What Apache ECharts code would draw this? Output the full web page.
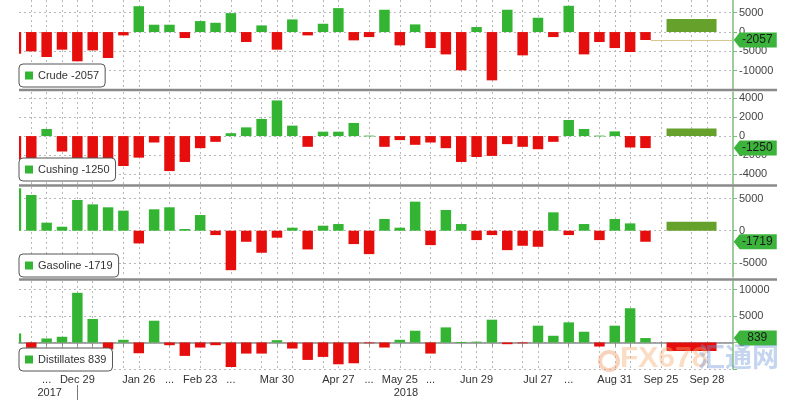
<!DOCTYPE html>
<html><head><meta charset="utf-8">
<script src="https://cdn.jsdelivr.net/npm/echarts@6/dist/echarts.min.js"></script>
<style>html,body{margin:0;padding:0;background:#fff}#c{width:800px;height:400px}</style>
</head><body><div id="c"></div>
<script>
// Weekly changes (thousand barrels), weeks Dec 1 2017 ... Sep 14 2018
const crude = [-5600,-5000,-6450,-4560,-7570,-4740,-6720,-860,6700,1900,1900,-1550,2840,2400,4900,-2580,1720,-4560,3270,-860,2150,6200,-2150,-1300,5780,-3450,1980,-4140,-5780,-9900,1300,-12500,5780,-6030,3700,-1300,6800,-5780,-2580,-4140,-5170,-2057];
const cushing = [-2500,-2500,740,-1610,-2450,-2350,-2420,-3120,-2250,-670,-3650,-2700,-1260,-600,300,910,1790,3720,1090,-1120,460,460,1370,50,-1120,-420,-910,-670,-1260,-2700,-2180,-2070,-840,-1120,-1370,-600,1680,740,50,490,-1190,-1250];
const gasoline = [6600,5560,1250,620,4780,4100,3640,3120,-1980,3330,3640,260,2440,-680,-6140,-1720,-3430,-1090,470,-2910,780,1040,-2080,-3640,1820,470,4520,-2240,3220,1040,-1460,-680,-3020,-2340,-2500,2860,-680,1040,-1460,1820,1140,-1719];
const distillates = [1710,-1000,760,1080,9370,4430,-1300,510,-2030,4110,-510,-2530,-950,-510,-4620,-2090,-2090,440,-1140,-3290,-2720,-4110,-3920,-100,-950,510,2220,-2090,2850,100,150,4300,-320,-100,3170,1270,3800,2030,-760,3170,6460,839];
const panelNames = ['Crude','Cushing','Gasoline','Distillates'];
const forecast = [3400, 800, 1400, -1600];
const forecastSlot = 44;
const xTickIdx = [2,4,8,10,12,14,17,21,23,25,27,30,34,36,39,42,45];
const xTickText = ['...','Dec 29','Jan 26','...','Feb 23','...','Mar 30','Apr 27','...','May 25','...','Jun 29','Jul 27','...','Aug 31','Sep 25','Sep 28'];
const xGridIdx = [1,2,3,4,5,7,8,10,12,14,16,17,18,20,21,23,25,27,29,30,31,33,34,36,38,39,40,42,44,45];
const yearPos = [2.2, 25.4];
const yearText = ['2017','2018'];
const yearBreak = [4];
const yTicks = [[-10000,-5000,0,5000],[-4000,-2000,0,2000,4000],[-5000,0,5000],[-5000,0,5000,10000]];
const yLabelTicks = [[-10000,-5000,0,5000],[-4000,-2000,0,2000,4000],[-5000,0,5000],[0,5000,10000]];
const yRange = [[-15000,8300],[-5000,4600],[-7200,6800],[-5000,11600]];

const values = [crude, cushing, gasoline, distillates];
const GREEN='#33b533', RED='#e60d0d', OLIVE='#66a12c', TAG='#3cb43c', AXISG='#7dbb7d', GRIDC='#b8b8b8';
const XMIN=0.2, XMAX=46.7, BARW=10.5;
const gridBoxes = [{top:0,height:90},{top:92,height:92},{top:187,height:90},{top:281,height:88}];
const legendTops = [64,158,254,348];

// bars drawn through the axis scales, clipped exactly to the plot area
function renderBar(params, api) {
  const x = api.value(0), v = api.value(1);
  const p0 = api.coord([x, 0]);
  const p1 = api.coord([x, v]);
  const cs = params.coordSys;
  const rect = echarts.graphic.clipRectByRect(
    {x: p0[0]-BARW/2, y: Math.min(p0[1], p1[1]), width: BARW, height: Math.max(Math.abs(p1[1]-p0[1]), 0.8)},
    {x: cs.x, y: cs.y, width: cs.width, height: cs.height});
  return rect && {type:'rect', shape:rect, style:{fill: v >= 0 ? GREEN : RED}};
}

const grid = gridBoxes.map(g => Object.assign({left:19, width:714, containLabel:false, outerBoundsMode:'none'}, g));
const xAxis = [], yAxis = [], series = [], legend = [];
values.forEach((vals, i) => {
  const last = vals[vals.length-1];
  xAxis.push({
    type:'value', gridIndex:i, min:XMIN, max:XMAX,
    axisLine:{show:i===3, lineStyle:{color:'#8c8c8c', width:1.5}},
    axisTick:{show:i===3, customValues:xGridIdx, length:4, lineStyle:{color:'#8c8c8c'}},
    axisLabel:{show:i===3, customValues:xTickIdx, formatter:v => xTickText[xTickIdx.indexOf(v)] || '',
      fontSize:11, color:'#333', margin:5, fontFamily:'Liberation Sans'},
    splitLine:{show:true, lineStyle:{color:GRIDC, type:[2,3], width:1}}
  });
  xAxis.push({type:'value', gridIndex:i, min:XMIN, max:XMAX, show:false});
  yAxis.push({
    type:'value', gridIndex:i, position:'right', min:yRange[i][0], max:yRange[i][1],
    axisLine:{show:true, lineStyle:{color:AXISG, width:1.5}},
    axisTick:{show:true, customValues:yTicks[i], length:4, lineStyle:{color:AXISG}},
    axisLabel:{customValues:yLabelTicks[i], formatter:v => String(v), fontSize:11, color:'#444', margin:6, fontFamily:'Liberation Sans'},
    splitLine:{show:true, lineStyle:{color:GRIDC, type:[2,3], width:1}}
  });
  series.push({
    name:panelNames[i], type:'custom', xAxisIndex:2*i, yAxisIndex:i, color:GREEN,
    renderItem:renderBar, clip:true, encode:{x:0, y:1},
    data: vals.map((v,k) => [k, v]),
    animation:false
  });
  const fc = {
    name:'fc'+i, type:'bar', xAxisIndex:2*i+1, yAxisIndex:i, barWidth:50, clip:false,
    data:[{value:[forecastSlot, forecast[i]], itemStyle:{color: forecast[i]>=0 ? OLIVE : RED}}],
    animation:false,
    markPoint:{
      symbol:'path://M0,7 L6,0 L44,0 L44,14 L6,14 Z', symbolSize:[43,15], symbolOffset:[23,0],
      itemStyle:{color:TAG},
      label:{show:true, position:'inside', formatter:String(last), color:'#1a1a1a', fontSize:12, fontFamily:'Liberation Sans', offset:[2,0]},
      data:[{coord:[XMAX-0.05, last], value:last}],
      animation:false
    }
  };
  if (i === 0) {
    fc.markLine = {
      symbol:'none', silent:true, animation:false,
      lineStyle:{color:'#d6c88c', width:1, type:'solid'}, label:{show:false},
      data:[[{coord:[vals.length-1+0.35, last]},{coord:[XMAX-0.05, last]}]]
    };
  }
  series.push(fc);
  legend.push({
    data:[panelNames[i]], left:19, top:legendTops[i], selectedMode:false,
    backgroundColor:'#fff', borderColor:'#555', borderWidth:1, borderRadius:4,
    padding:[6,6,6,6], itemWidth:8, itemHeight:8, itemGap:4, icon:'rect',
    formatter: name => name + ' ' + last,
    textStyle:{fontSize:11, color:'#333', fontFamily:'Liberation Sans'}
  });
});
// year row
xAxis.push({
  type:'value', gridIndex:3, min:XMIN, max:XMAX, position:'bottom', offset:16,
  axisLine:{show:false},
  axisTick:{show:true, customValues:yearBreak, length:16, lineStyle:{color:'#777'}},
  axisLabel:{customValues:yearPos, formatter:v => yearText[yearPos.indexOf(v)] || '', margin:2,
    fontSize:11, color:'#333', fontFamily:'Liberation Sans'},
  splitLine:{show:false}
});

const sepLines = [90, 185.5, 279.5].map(y => ({
  type:'line', shape:{x1:19, y1:y, x2:777, y2:y}, style:{stroke:'#8a8a8a', lineWidth:2.5}, z:10, silent:true
}));
const watermark = [
  {type:'circle', shape:{cx:609, cy:361, r:9}, style:{fill:'none', stroke:'rgba(240,160,110,0.45)', lineWidth:4}, z:20, silent:true},
  {type:'text', left:620, top:344, style:{text:'FX678', fill:'rgba(245,170,110,0.40)', font:'bold 30px "Liberation Sans"'}, z:20, silent:true},
  {type:'text', left:698, top:343, style:{text:'汇通网', fill:'rgba(110,150,215,0.40)', font:'bold 27px "Noto Sans CJK SC"'}, z:20, silent:true}
];

const chart = echarts.init(document.getElementById('c'), null, {renderer:'canvas'});
chart.setOption({
  animation:false, backgroundColor:'#fff',
  grid, xAxis, yAxis, series, legend,
  graphic: sepLines.concat(watermark)
});
</script></body></html>
